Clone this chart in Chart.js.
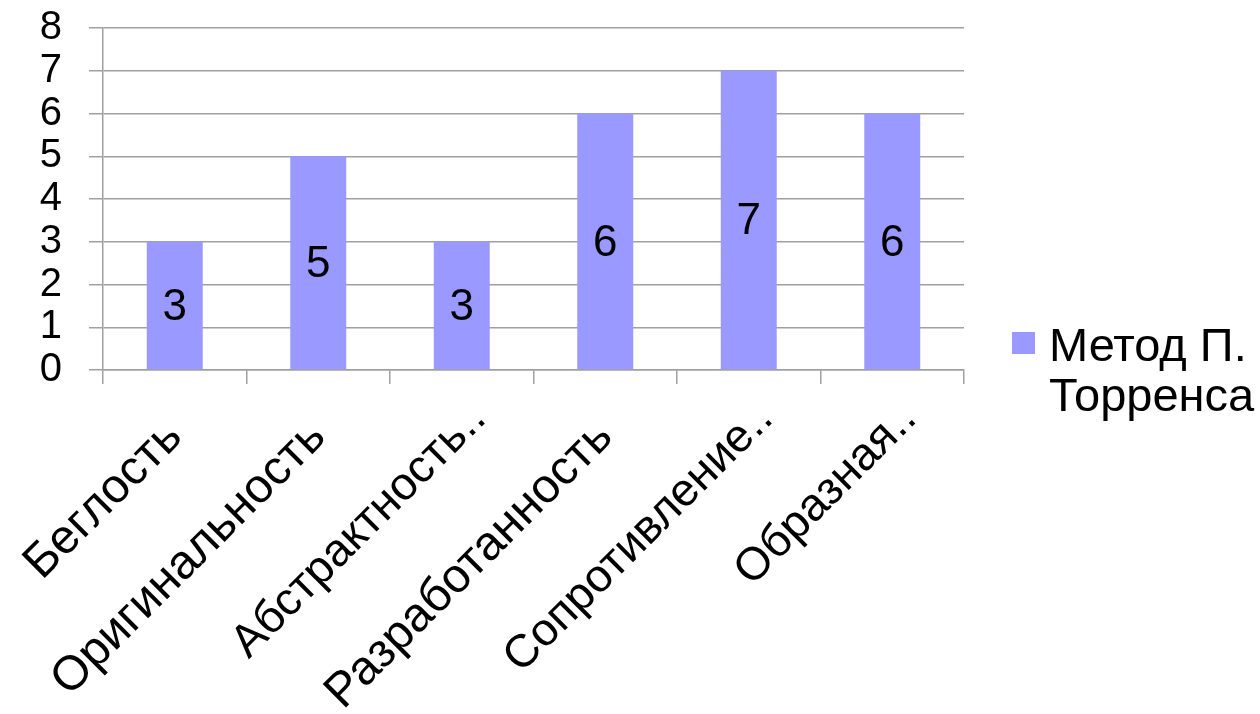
<!DOCTYPE html>
<html>
<head>
<meta charset="utf-8">
<script src="https://cdn.jsdelivr.net/npm/chart.js@4"></script>
<style>
  html, body { margin: 0; padding: 0; background: #fff; }
  #wrap { width: 1260px; height: 714px; }
</style>
</head>
<body>
<div id="wrap"><canvas id="chart" width="1260" height="714"></canvas></div>
<script>
// Data
const categories = ['Беглость', 'Оригинальность', 'Абстрактность..', 'Разработанность', 'Сопротивление..', 'Образная..'];
const seriesName = ['Метод П.', 'Торренса']; // legend text, two lines
const seriesValues = [3, 5, 3, 6, 7, 6];
const yTicks = [0, 1, 2, 3, 4, 5, 6, 7, 8];

const FONT = "'Liberation Sans', Arial, sans-serif";
const barColor = '#9999ff';
const gridColor = '#a0a0a0';

const isCut = i => categories[i].endsWith('..');

// Value labels in the middle of each bar
const barValues = {
    id: 'barValues',
    afterDatasetsDraw(chart) {
        const ctx = chart.ctx;
        const meta = chart.getDatasetMeta(0);
        ctx.save();
        ctx.font = '44px ' + FONT;
        ctx.fillStyle = '#000';
        ctx.textAlign = 'center';
        ctx.textBaseline = 'middle';
        meta.data.forEach((bar, i) => {
            const v = chart.data.datasets[0].data[i];
            ctx.fillText(String(v), bar.x, (bar.y + bar.base) / 2 + 2);
        });
        ctx.restore();
    }
};

// Legend on the right with a wrapped label
const sideLegend = {
    id: 'sideLegend',
    afterDraw(chart) {
        const ctx = chart.ctx;
        const ds = chart.data.datasets[0];
        const lines = ds.legendLines;
        ctx.save();
        ctx.fillStyle = ds.backgroundColor;
        ctx.fillRect(1012, 332, 23, 22);
        ctx.fillStyle = '#000';
        ctx.font = '47px ' + FONT;
        ctx.textAlign = 'left';
        ctx.textBaseline = 'alphabetic';
        lines.forEach((t, i) => ctx.fillText(t, 1049, 361 + i * 50));
        ctx.restore();
    }
};

const ctx = document.getElementById('chart').getContext('2d');
new Chart(ctx, {
    type: 'bar',
    data: {
        labels: categories,
        datasets: [{
            label: seriesName.join(' '),
            legendLines: seriesName,
            data: seriesValues,
            backgroundColor: barColor,
            borderWidth: 0,
            barPercentage: 0.39,
            categoryPercentage: 1
        }]
    },
    options: {
        responsive: false,
        animation: false,
        layout: { padding: { top: 28, right: 296, bottom: 0, left: 0 } },
        plugins: {
            legend: { display: false },
            tooltip: { enabled: false }
        },
        scales: {
            y: {
                min: 0,
                max: 8,
                afterBuildTicks(scale) {
                    scale.ticks = yTicks.map(v => ({ value: v }));
                },
                afterFit(scale) {
                    scale.width = 103;
                    scale.paddingTop = 0;
                    scale.paddingBottom = 0;
                },
                ticks: {
                    color: '#000',
                    font: { family: FONT, size: 40 },
                    padding: 27,
                    autoSkip: false
                },
                grid: { color: gridColor, lineWidth: 1.5, tickLength: 14 },
                border: { color: gridColor, width: 1.5 }
            },
            x: {
                afterFit(scale) {
                    scale.height = 344;
                    scale.paddingLeft = 0;
                    scale.paddingRight = 0;
                },
                ticks: {
                    color: '#000',
                    // cut names render a little narrower in the original
                    font: c => ({ family: FONT, size: isCut(c.index) ? 46 : 48 }),
                    minRotation: 45,
                    maxRotation: 45,
                    autoSkip: false,
                    padding: 8,
                    labelOffset: 17,
                    // full (not cut) names end a bit closer to the axis
                    callback: (v, i) => isCut(i) ? categories[i] : categories[i] + '\u2002'
                },
                grid: {
                    offset: true,
                    drawOnChartArea: false,
                    color: gridColor,
                    lineWidth: 1.5,
                    tickLength: 14
                },
                border: { color: gridColor, width: 1.5 }
            }
        }
    },
    plugins: [barValues, sideLegend]
});
</script>
</body>
</html>
